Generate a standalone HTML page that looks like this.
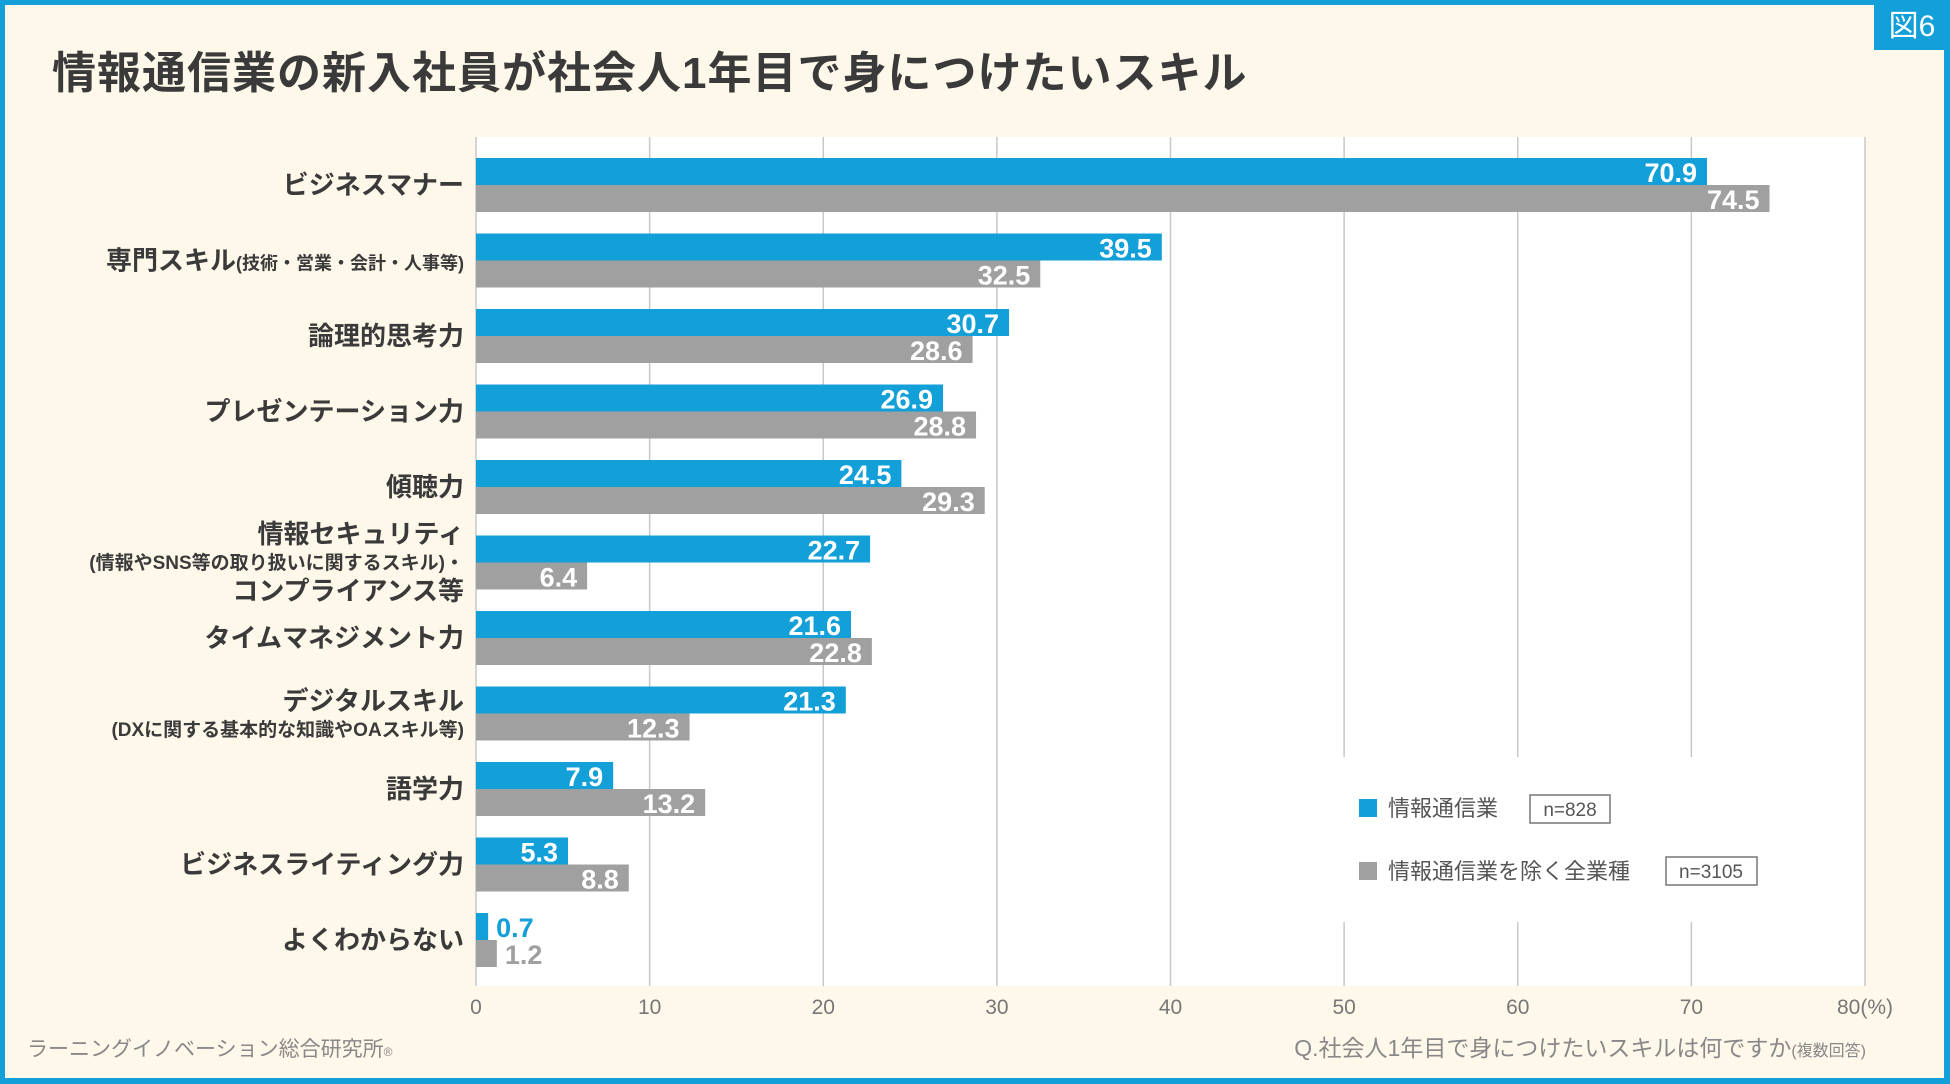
<!DOCTYPE html>
<html><head><meta charset="utf-8">
<style>
html,body{margin:0;padding:0;}
body{width:1950px;height:1084px;overflow:hidden;background:#fdf8e9;font-family:"Liberation Sans","Noto Sans CJK JP",sans-serif;}
#frame{position:absolute;left:0;top:0;width:1950px;height:1084px;box-sizing:border-box;border-left:5px solid #139fd8;border-right:6px solid #139fd8;border-top:5px solid #139fd8;border-bottom:6px solid #139fd8;}
</style></head>
<body>
<div id="frame"></div>
<svg id="chart" width="1950" height="1084" style="position:absolute;left:0;top:0"></svg>
<script>
const categories=["ビジネスマナー","専門スキル","論理的思考力","プレゼンテーション力","傾聴力","情報セキュリティ","タイムマネジメント力","デジタルスキル","語学力","ビジネスライティング力","よくわからない"];
const seriesIT=[70.9,39.5,30.7,26.9,24.5,22.7,21.6,21.3,7.9,5.3,0.7];
const seriesAll=[74.5,32.5,28.6,28.8,29.3,6.4,22.8,12.3,13.2,8.8,1.2];
const ticks=[0,10,20,30,40,50,60,70,80];
const tickLabels=["0","10","20","30","40","50","60","70","80(%)"];

const NS="http://www.w3.org/2000/svg";
const svg=document.getElementById('chart');
const X0=476,X1=1865,VMAX=80,TOP=137,BOT=986,ROW0=158,PITCH=75.5,BH=27;
const xs=v=>X0+(X1-X0)*v/VMAX;
const rowY=i=>ROW0+i*PITCH;
function el(tag,attrs,parent){const e=document.createElementNS(NS,tag);for(const k in attrs)e.setAttribute(k,attrs[k]);(parent||svg).appendChild(e);return e;}
function txt(s,attrs,parent){const t=el('text',attrs,parent);t.textContent=s;return t;}
const FF='"Liberation Sans","Noto Sans CJK JP",sans-serif';

// title
let t=txt("情報通信業の新入社員が社会人1年目で身につけたいスキル",{x:52,y:88,'font-size':44,'font-weight':'bold',fill:'#3a3a3a','font-family':FF,'letter-spacing':'1'});


// badge
let b=el('rect',{x:1874,y:0,width:76,height:50,fill:'#139fd8'});


t=txt("図6",{x:1912,y:36,'font-size':30,fill:'#fff','text-anchor':'middle','font-family':FF});



// plot area
let pa=el('rect',{x:X0,y:TOP,width:X1-X0,height:BOT-TOP,fill:'#fff'});


ticks.forEach((v,i)=>{
  const l=el('line',{x1:xs(v),x2:xs(v),y1:TOP,y2:BOT,stroke:'#c8c8c8','stroke-width':1.5});
  
  
  const tl=txt(tickLabels[i],{x:xs(v),y:1014,'font-size':21,fill:'#777','text-anchor':'middle','font-family':FF});
  
  
});

// legend box (covers gridlines)
let lg=el('g',{});


el('rect',{x:1343,y:757,width:440,height:165,fill:'#fff'},lg);
el('rect',{x:1359,y:799,width:18,height:18,fill:'#139fd8'},lg);
txt("情報通信業",{x:1388,y:816,'font-size':22,fill:'#555','font-family':FF},lg);
el('rect',{x:1530,y:795,width:80,height:28,fill:'#fff',stroke:'#777','stroke-width':1.5},lg);
txt("n=828",{x:1570,y:816,'font-size':19,fill:'#555','text-anchor':'middle','font-family':FF},lg);
el('rect',{x:1359,y:862,width:18,height:18,fill:'#a0a0a0'},lg);
txt("情報通信業を除く全業種",{x:1388,y:879,'font-size':22,fill:'#555','font-family':FF},lg);
el('rect',{x:1666,y:857,width:91,height:28,fill:'#fff',stroke:'#777','stroke-width':1.5},lg);
txt("n=3105",{x:1711,y:878,'font-size':19,fill:'#555','text-anchor':'middle','font-family':FF},lg);

// bars
function bar(v,y,color,name){
  const r=el('rect',{x:X0,y:y,width:xs(v)-X0,height:BH,fill:color});
  
  
  let lt;
  if(v<3){
    lt=txt(v.toFixed(1),{x:xs(v)+8,y:y+BH-3,'font-size':27,'font-weight':'bold',fill:color,'font-family':FF});
  }else{
    lt=txt(v.toFixed(1),{x:xs(v)-10,y:y+BH-3,'font-size':27,'font-weight':'bold',fill:'#fff','text-anchor':'end','font-family':FF});
  }
  
  
}
categories.forEach((c,i)=>{
  const y=rowY(i);
  bar(seriesIT[i],y,'#139fd8','bar-it-'+i);
  bar(seriesAll[i],y+BH,'#a0a0a0','bar-all-'+i);
});

// category labels
const LX=464;
function lab(parts,y,name){
  const tt=el('text',{x:LX,y:y,'text-anchor':'end',fill:'#3a3a3a','font-family':FF,'font-weight':'bold'});
  
  
  parts.forEach(p=>{const s=el('tspan',{'font-size':p[1]},tt);s.textContent=p[0];});
}
categories.forEach((c,i)=>{
  const cy=rowY(i)+BH+9;
  if(i==1) lab([["専門スキル",26],["(技術・営業・会計・人事等)",18]],cy,'category-label-'+i);
  else if(i==5){
    lab([["情報セキュリティ",26]],543,'category-label-'+i);
    lab([["(情報やSNS等の取り扱いに関するスキル)・",19]],569,'category-label-'+i+'-sub');
    lab([["コンプライアンス等",26]],600,'category-label-'+i+'-line3');
  }else if(i==7){
    lab([["デジタルスキル",26]],710,'category-label-'+i);
    lab([["(DXに関する基本的な知識やOAスキル等)",19]],736,'category-label-'+i+'-sub');
  }else lab([[c,26]],cy,'category-label-'+i);
});

// footer
t=txt("ラーニングイノベーション総合研究所",{x:27,y:1056,'font-size':21,fill:'#888','font-family':FF});


el('tspan',{'font-size':12},t).textContent="®";
t=el('text',{x:1866,y:1056,'text-anchor':'end',fill:'#888','font-family':FF});


el('tspan',{'font-size':23},t).textContent="Q.社会人1年目で身につけたいスキルは何ですか";
el('tspan',{'font-size':16},t).textContent="(複数回答)";
</script>
</body></html>
